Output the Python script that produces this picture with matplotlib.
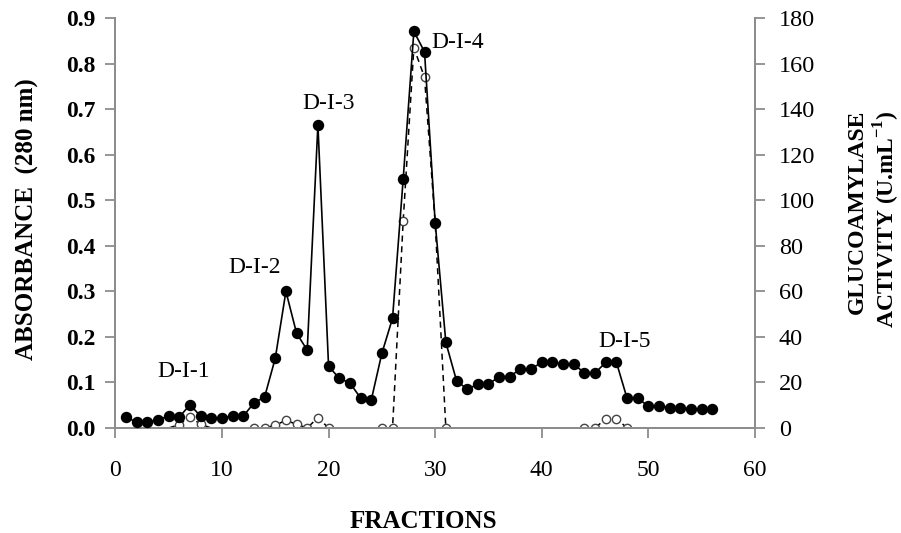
import numpy as np
import matplotlib
matplotlib.use("Agg")
import matplotlib.pyplot as plt

# fractions 1..56
fractions = np.arange(1, 57)

absorbance = [0.024, 0.013, 0.013, 0.018, 0.026, 0.024, 0.051, 0.026, 0.022, 0.022,
              0.026, 0.026, 0.055, 0.068, 0.153, 0.300, 0.208, 0.171, 0.666, 0.136,
              0.109, 0.099, 0.066, 0.061, 0.164, 0.241, 0.547, 0.871, 0.826, 0.451,
              0.188, 0.104, 0.085, 0.096, 0.096, 0.113, 0.113, 0.130, 0.130, 0.144,
              0.144, 0.140, 0.140, 0.121, 0.121, 0.144, 0.144, 0.065, 0.065, 0.048,
              0.048, 0.045, 0.044, 0.042, 0.042, 0.042]

# glucoamylase activity (U/mL), baseline zero where not measured
activity = [0, 0, 0, 0, 0, 1.5, 4.9, 1.6, 0, 0,
            0, 0, 0, 0, 1.2, 3.4, 1.6, 0, 4.6, 0,
            0, 0, 0, 0, 0, 0, 91, 167, 154, 90,
            0, 0, 0, 0, 0, 0, 0, 0, 0, 0,
            0, 0, 0, 0, 0, 4.1, 4.1, 0, 0, 0,
            0, 0, 0, 0, 0, 0]
# fractions where an open marker is drawn
activity_marked = [6, 7, 8, 13, 14, 15, 16, 17, 18, 19, 20, 25, 26, 27, 28, 29, 30, 31,
                   44, 45, 46, 47, 48]

peak_labels = ["D-I-1", "D-I-2", "D-I-3", "D-I-4", "D-I-5"]
peak_pos = [(6.4, 0.124), (13.1, 0.352), (20.0, 0.712), (32.1, 0.847), (47.8, 0.19)]

plt.rcParams['font.family'] = ['Liberation Serif', 'DejaVu Serif']
plt.rcParams['mathtext.fontset'] = 'custom'
plt.rcParams['mathtext.rm'] = 'Liberation Serif'
plt.rcParams['mathtext.bf'] = 'Liberation Serif:bold'

fig = plt.figure(figsize=(9.01, 5.33), dpi=100)
ax = fig.add_axes([0.128, 0.197, 0.71, 0.769])
ax2 = ax.twinx()

gray = '#8c8c8c'

# activity: dashed line over the whole run, markers only where measured
idx = [f - 1 for f in activity_marked]
ax2.plot(fractions[:55], activity[:55], color='black', linestyle=(0, (4, 3)), linewidth=1.1, zorder=1)
ax2.plot(fractions[idx], np.array(activity)[idx], linestyle='none', marker='o',
         markersize=6, markerfacecolor='white', markeredgecolor='#444444',
         markeredgewidth=1.0, zorder=2)

ax.plot(fractions, absorbance, color='black', linewidth=1.2, marker='o',
        markersize=7.2, markerfacecolor='black', zorder=3)
ax.set_zorder(ax2.get_zorder() + 1)
ax.patch.set_visible(False)

for lab, (px, py) in zip(peak_labels, peak_pos):
    ax.text(px, py, lab, fontsize=17, ha='center', va='center')

ax.set_xlim(0, 60)
ax.set_ylim(0, 0.9)
ax2.set_ylim(0, 180)
ax.set_xticks(np.arange(0, 61, 10))
ax.set_yticks(np.arange(0, 0.91, 0.1))
ax2.set_yticks(np.arange(0, 181, 20))
ax.set_yticklabels([f"{v:.1f}" for v in np.arange(0, 0.91, 0.1)])

for a in (ax, ax2):
    a.spines['top'].set_visible(False)
    for s in ('left', 'right', 'bottom'):
        a.spines[s].set_color(gray)
        a.spines[s].set_linewidth(1.3)
    a.tick_params(colors=gray, labelcolor='black', length=7, width=1.3)

ax.tick_params(axis='y', labelsize=17, pad=7)
ax.tick_params(axis='x', labelsize=17, pad=16)
ax2.tick_params(axis='y', labelsize=17.5, pad=10)
for lbl in ax.get_yticklabels():
    lbl.set_fontweight('bold')

ax.set_xlabel('FRACTIONS', fontsize=18, fontweight='bold')
ax.xaxis.set_label_coords(0.481, -0.2)
ax.set_ylabel('ABSORBANCE  (280 nm)', fontsize=18, fontweight='bold')
ax.yaxis.set_label_coords(-0.12, 0.51)
ax2.set_ylabel('GLUCOAMYLASE\nACTIVITY (U.mL$^{\\mathbf{-1}}$)', fontsize=17,
               fontweight='bold', rotation=90, linespacing=1.15, multialignment='right')
ax2.yaxis.set_label_coords(1.144, 0.51)

fig.savefig('out.png', dpi=100)
